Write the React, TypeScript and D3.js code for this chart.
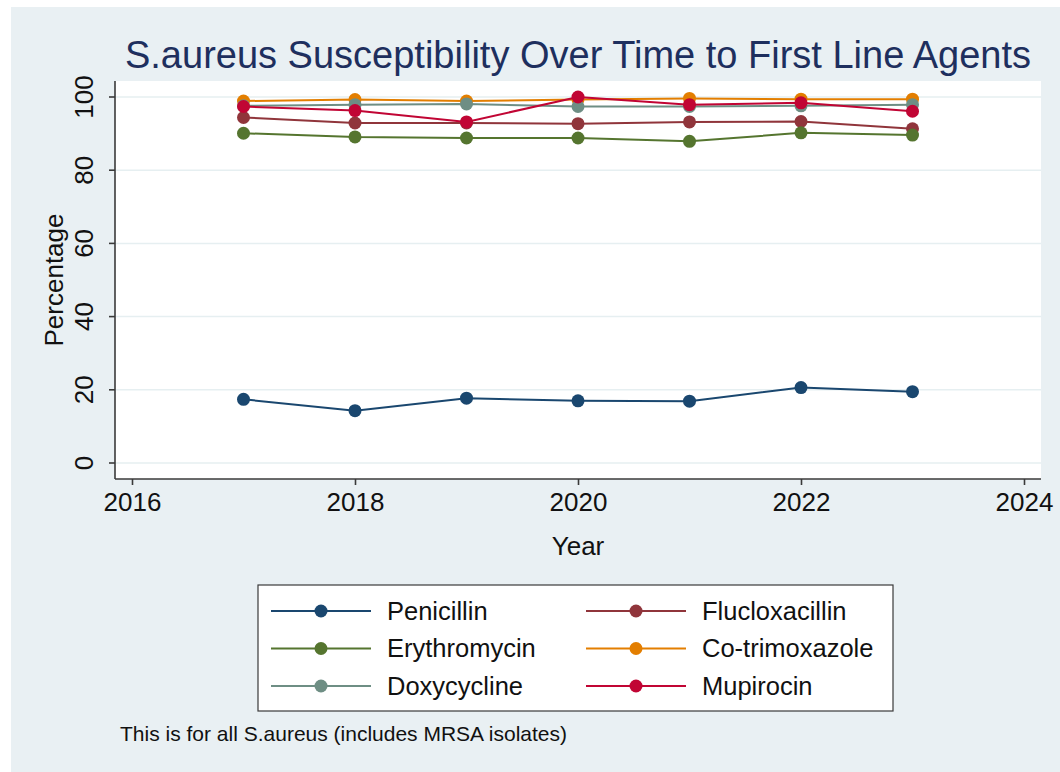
import React, { useEffect, useRef } from "react"
import * as d3 from "d3"

const years = [2017, 2018, 2019, 2020, 2021, 2022, 2023]
const xTicks = [2016, 2018, 2020, 2022, 2024]
const yTicks = [0, 20, 40, 60, 80, 100]

const drugs = ["Penicillin", "Flucloxacillin", "Erythromycin", "Co-trimoxazole", "Doxycycline", "Mupirocin"]
const colors = ["#1a476f", "#90353b", "#55752f", "#e37e00", "#6e8e84", "#c10534"]

const penicillin = [17.4, 14.3, 17.7, 17.0, 16.9, 20.6, 19.5]
const flucloxacillin = [94.4, 92.9, 92.9, 92.7, 93.2, 93.3, 91.3]
const erythromycin = [90.1, 89.1, 88.8, 88.8, 87.9, 90.2, 89.6]
const cotrimoxazole = [98.9, 99.3, 98.9, 99.3, 99.6, 99.4, 99.4]
const doxycycline = [97.6, 97.9, 98.1, 97.4, 97.4, 97.6, 97.9]
const mupirocin = [97.4, 96.3, 93.2, 100, 97.9, 98.4, 96.1]

const seriesValues = [penicillin, flucloxacillin, erythromycin, cotrimoxazole, doxycycline, mupirocin]

const font = "'Liberation Sans', Arial, sans-serif"

function App() {
  const ref = useRef<SVGSVGElement>(null)

  useEffect(() => {
    const svg = d3.select(ref.current)
    svg.selectAll("*").remove()

    const width = 1060
    const height = 772
    const left = 115, right = 1041, top = 81, bottom = 479

    // outer panel
    svg.append("rect").attr("width", width).attr("height", height).attr("fill", "#ffffff")
    svg.append("rect").attr("x", 11).attr("y", 7).attr("width", width - 11).attr("height", height - 7).attr("fill", "#e9f0f3")
    svg.append("rect").attr("x", left).attr("y", top).attr("width", right - left).attr("height", bottom - top).attr("fill", "#ffffff")

    const x = d3.scaleLinear().domain([2016, 2024]).range([132, 1024])
    const y = d3.scaleLinear().domain([0, 100]).range([463, 97])

    // gridlines
    svg.append("g")
      .selectAll("line")
      .data(yTicks)
      .enter()
      .append("line")
      .attr("x1", left).attr("x2", right)
      .attr("y1", d => y(d)).attr("y2", d => y(d))
      .attr("stroke", "#e6eff1")
      .attr("stroke-width", 1.5)

    // axes
    const yAxis = svg.append("g")
      .attr("transform", "translate(" + left + ",0)")
      .call(d3.axisLeft(y).tickValues(yTicks).tickSize(6).tickSizeOuter(0))
    yAxis.select(".domain").attr("d", "M0," + top + "V" + bottom)
    yAxis.selectAll("line, path").attr("stroke", "#3a3a3a").attr("stroke-width", 1.6)
    yAxis.selectAll(".tick").attr("transform", "translate(0,0)")
    yAxis.selectAll(".tick line").each(function (d) {
      d3.select(this).attr("y1", y(d as number)).attr("y2", y(d as number))
    })
    yAxis.selectAll("text")
      .attr("font-family", font).attr("font-size", 26).attr("fill", "#111")
      .attr("x", 0).attr("y", -22).attr("dy", 0)
      .style("text-anchor", "middle")
      .each(function (d) {
        d3.select(this).attr("transform", "translate(0," + y(d as number) + ") rotate(-90)")
      })

    const xAxis = svg.append("g")
      .attr("transform", "translate(0," + bottom + ")")
      .call(d3.axisBottom(x).tickValues(xTicks).tickFormat(d3.format("d")).tickSize(6).tickSizeOuter(0).tickPadding(8))
    xAxis.select(".domain").attr("d", "M" + left + ",0H" + right)
    xAxis.selectAll("line, path").attr("stroke", "#3a3a3a").attr("stroke-width", 1.6)
    xAxis.selectAll("text").attr("font-family", font).attr("font-size", 26).attr("fill", "#111")

    // titles
    svg.append("text").text("S.aureus Susceptibility Over Time to First Line Agents")
      .attr("x", 578).attr("y", 68).attr("text-anchor", "middle")
      .attr("font-family", font).attr("font-size", 38).attr("fill", "#1e2f5e")
    svg.append("text").text("Year")
      .attr("x", 578).attr("y", 555).attr("text-anchor", "middle")
      .attr("font-family", font).attr("font-size", 26).attr("fill", "#111")
    svg.append("text").text("Percentage")
      .attr("transform", "translate(63," + (top + bottom) / 2 + ") rotate(-90)")
      .attr("text-anchor", "middle")
      .attr("font-family", font).attr("font-size", 26).attr("fill", "#111")

    // series
    const line = d3.line<number>()
      .x((d, i) => x(years[i]))
      .y(d => y(d))

    seriesValues.forEach((vals, k) => {
      svg.append("path")
        .attr("d", line(vals))
        .attr("fill", "none")
        .attr("stroke", colors[k])
        .attr("stroke-width", 2)
      svg.append("g")
        .selectAll("circle")
        .data(vals)
        .enter()
        .append("circle")
        .attr("cx", (d, i) => x(years[i]))
        .attr("cy", d => y(d))
        .attr("r", 6.5)
        .attr("fill", colors[k])
    })

    // legend
    const lg = svg.append("g")
    lg.append("rect").attr("x", 258).attr("y", 585).attr("width", 635).attr("height", 126)
      .attr("fill", "#ffffff").attr("stroke", "#3a3a3a").attr("stroke-width", 1.2)
    drugs.forEach((name, k) => {
      const col = k % 2
      const row = Math.floor(k / 2)
      const lx = col === 0 ? 271 : 586
      const ly = 611 + row * 37.5
      lg.append("line").attr("x1", lx).attr("x2", lx + 100).attr("y1", ly).attr("y2", ly)
        .attr("stroke", colors[k]).attr("stroke-width", 2)
      lg.append("circle").attr("cx", lx + 50).attr("cy", ly).attr("r", 6.5).attr("fill", colors[k])
      lg.append("text").text(name)
        .attr("x", lx + 116).attr("y", ly).attr("dy", "0.35em")
        .attr("font-family", font).attr("font-size", 25.5).attr("fill", "#111")
    })

    svg.append("text").text("This is for all S.aureus (includes MRSA isolates)")
      .attr("x", 120).attr("y", 741)
      .attr("font-family", font).attr("font-size", 21).attr("fill", "#111")
  }, [])

  return (
    <svg ref={ref} width={1060} height={772} style={{ position: "absolute", left: 0, top: 0 }} />
  )
}

export default App
